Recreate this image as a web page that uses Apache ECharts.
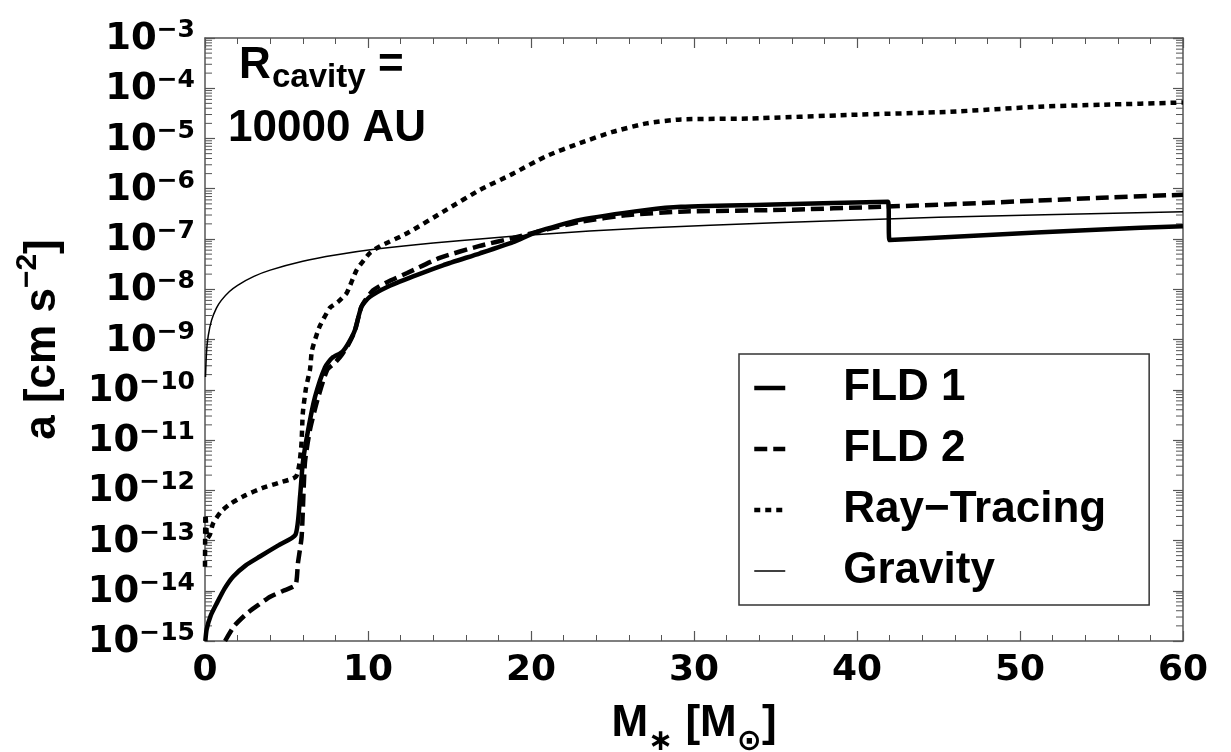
<!DOCTYPE html>
<html lang="en">
<head>
    <meta charset="UTF-8"/>
    <style>
        html, body { margin: 0; padding: 0; background: #fff; }
    </style>
</head>
<body>

<div id="main" style="width: 1231px;height:752px;"></div>

<script src="https://cdn.jsdelivr.net/npm/echarts@6/dist/echarts.min.js"></script>
<script type="text/javascript">

    // stellar mass [Msun] and acceleration [cm s^-2]
    var massFld1 = [0.02, 0.1, 0.35, 0.72, 1.2, 1.72, 2.5, 3.37, 4.5, 5.55, 5.83, 6.0, 6.33, 6.75, 7.36, 7.8, 8.4, 8.8, 9.2, 9.6,
        10.1, 11.15, 12.77, 14.6, 16.87, 18.9, 20.4, 23, 27.1, 29.2, 35.5, 41.9, 42.0, 45.7, 51, 55, 60];
    var accFld1 = [1e-15, 1.7e-15, 3.2e-15, 5.6e-15, 1.1e-14, 1.9e-14, 3.2e-14, 4.8e-14, 8e-14, 1.3e-13, 7.4e-13, 3.5e-12, 1.6e-11,
        7.2e-11, 2.8e-10, 4.3e-10, 5.6e-10, 8.5e-10, 1.55e-9, 4.5e-9, 7e-9, 1.1e-8, 1.8e-8, 3.0e-8, 5.2e-8, 8.7e-8, 1.4e-7,
        2.4e-7, 3.8e-7, 4.4e-7, 4.9e-7, 5.5e-7, 9.5e-8, 1.1e-7, 1.35e-7, 1.55e-7, 1.8e-7];

    var massFld2 = [1.23, 1.8, 2.6, 3.3, 4.0, 4.8, 5.55, 5.7, 5.93, 6.13, 6.44, 6.9, 7.5, 8.0, 8.4, 8.8, 9.2, 9.6, 10.3, 11.2,
        12.4, 14.4, 16.8, 18.9, 21, 23, 26, 29.1, 35.5, 41.6, 45.7, 51, 55, 60];
    var accFld2 = [1e-15, 2e-15, 3.6e-15, 5.3e-15, 7.6e-15, 1.0e-14, 1.3e-14, 3.5e-14, 1.2e-13, 3.5e-12, 1.6e-11, 6.3e-11,
        2.5e-10, 3.5e-10, 5e-10, 8e-10, 1.5e-9, 4.5e-9, 9.5e-9, 1.4e-8, 2.1e-8, 4.2e-8, 7.2e-8, 1.05e-7, 1.55e-7, 2.2e-7,
        3e-7, 3.5e-7, 3.8e-7, 4.4e-7, 4.9e-7, 5.8e-7, 6.6e-7, 7.6e-7];

    var massRay = [0.0, 0.03, 0.15, 0.3, 0.5, 1.0, 1.6, 2.5, 3.5, 4.5, 5.6, 5.9, 6.0, 6.2, 6.44, 6.56, 6.9, 7.06, 7.67, 8.16,
        8.7, 9.3, 10.1, 10.74, 12.4, 14.8, 16.87, 18.9, 20.9, 23, 25, 27.1, 29.2, 33.4, 39.6, 45.7, 51.2, 55, 60];
    var accRay = [3e-14, 3.3e-13, 1.1e-13, 1.3e-13, 2.2e-13, 3.8e-13, 5.5e-13, 8e-13, 1.1e-12, 1.4e-12, 1.9e-12, 7e-12, 3.4e-11,
        1.1e-10, 2.5e-10, 6e-10, 1.4e-9, 1.9e-9, 4.3e-9, 5.6e-9, 8.5e-9, 2.4e-8, 5.2e-8, 7.2e-8, 1.3e-7, 3.8e-7, 9.5e-7,
        2.0e-6, 4.4e-6, 8.1e-6, 1.35e-5, 2.0e-5, 2.4e-5, 2.5e-5, 2.95e-5, 3.4e-5, 4.3e-5, 4.7e-5, 5.2e-5];

    var massGrav = [0.03, 0.1, 0.2, 0.4, 0.7, 1, 1.5, 2, 3, 4, 6, 8, 10.5, 14, 20, 27, 35, 45, 60];
    var accGrav = [1.8e-10, 6e-10, 1.2e-9, 2.4e-9, 4.2e-9, 6e-9, 9e-9, 1.2e-8, 1.8e-8, 2.4e-8, 3.6e-8, 4.8e-8, 6.3e-8,
        8.3e-8, 1.2e-7, 1.65e-7, 2.1e-7, 2.7e-7, 3.5e-7];

    var seriesNames = ['FLD 1', 'FLD 2', 'Ray\u2212Tracing', 'Gravity'];

    // log minor ticks 2..9 in each decade
    var minorTickValues = [];
    for (var e = -15; e < -3; e++) {
        for (var k = 2; k <= 9; k++) {
            minorTickValues.push(k * Math.pow(10, e));
        }
    }

    function zip(xs, ys) {
        var out = [];
        for (var i = 0; i < xs.length; i++) out.push([xs[i], ys[i]]);
        return out;
    }

    DrawEChart(echarts);

    function DrawEChart(echarts) {
        var myChart = echarts.init(document.getElementById('main'));

        var frameColor = '#555';
        var tickFont = {fontFamily: 'DejaVu Sans', fontWeight: 'bold', color: '#000'};

        var xBase = {
            type: 'value', min: 0, max: 60, interval: 10,
            axisLine: {show: true, onZero: false, lineStyle: {color: frameColor, width: 1.5}},
            axisTick: {show: true, inside: true, length: 10, lineStyle: {color: frameColor, width: 1.2}},
            minorTick: {show: true, splitNumber: 5, length: 6, lineStyle: {color: frameColor, width: 1}},
            splitLine: {show: false}
        };
        var yBase = {
            type: 'log', logBase: 10, min: 1e-15, max: 1e-3, interval: 1,
            axisLine: {show: true, onZero: false, lineStyle: {color: frameColor, width: 1.5}},
            axisTick: {show: true, inside: true, length: 10, lineStyle: {color: frameColor, width: 1.2}},
            splitLine: {show: false}
        };

        var options = {
            animation: false,
            grid: {left: 205, right: 48, top: 38, bottom: 111, containLabel: false, outerBoundsMode: 'none'},
            xAxis: [
                Object.assign({}, xBase, {
                    position: 'bottom',
                    axisLabel: Object.assign({fontSize: 36, margin: 12}, tickFont),
                    name: '{m|M}{sub|\u2217}{m| [M}{sub|\u2299}{m|]}',
                    nameLocation: 'middle',
                    nameGap: 39,
                    nameTextStyle: {
                        rich: {
                            m: {fontFamily: 'Liberation Sans', fontWeight: 'bold', fontSize: 44, color: '#000', lineHeight: 60},
                            sub: {fontFamily: 'DejaVu Sans', fontWeight: 'bold', fontSize: 30, color: '#000', lineHeight: 20, verticalAlign: 'top', padding: [33, 0, 0, 0]}
                        }
                    }
                }),
                Object.assign({}, xBase, {position: 'top', axisLabel: {show: false}})
            ],
            yAxis: [
                Object.assign({}, yBase, {
                    position: 'left',
                    axisLabel: {
                        margin: 10,
                        formatter: function (v) {
                            var p = Math.round(Math.log10(v));
                            return '{b|10}{s|\u2212' + (-p) + '}';
                        },
                        rich: {
                            b: Object.assign({fontSize: 37, lineHeight: 40, verticalAlign: 'bottom'}, tickFont),
                            s: Object.assign({fontSize: 25, lineHeight: 40, verticalAlign: 'top'}, tickFont)
                        }
                    },
                    name: '{t|a [cm s}{sup|\u22122}{t|]}',
                    nameLocation: 'middle',
                    nameRotate: 90,
                    nameGap: 140,
                    nameTextStyle: {
                        rich: {
                            t: {fontFamily: 'Liberation Sans', fontWeight: 'bold', fontSize: 44, color: '#000', lineHeight: 52, verticalAlign: 'bottom'},
                            sup: {fontFamily: 'Liberation Sans', fontWeight: 'bold', fontSize: 30, color: '#000', lineHeight: 52, verticalAlign: 'top'}
                        }
                    }
                }),
                Object.assign({}, yBase, {position: 'right', axisLabel: {show: false}})
            ],
            legend: {
                data: seriesNames,
                orient: 'vertical',
                left: 739,
                top: 354,
                itemWidth: 31,
                itemHeight: 2,
                itemGap: 11,
                padding: [9, 43, 9, 13],
                borderColor: '#333',
                borderWidth: 1.5,
                selectedMode: false,
                itemStyle: {opacity: 0},
                lineStyle: {width: 'inherit', type: 'inherit'},
                textStyle: {
                    fontFamily: 'Liberation Sans', fontWeight: 'bold', fontSize: 44, color: '#000',
                    lineHeight: 50, padding: [0, 0, 0, 53]
                }
            },
            graphic: [
                {type: 'text', x: 239, y: 66, style: {text: 'R', fontFamily: 'Liberation Sans', fontWeight: 'bold', fontSize: 44, fill: '#000', verticalAlign: 'middle'}},
                {type: 'text', x: 272, y: 78, style: {text: 'cavity', fontFamily: 'Liberation Sans', fontWeight: 'bold', fontSize: 33, fill: '#000', verticalAlign: 'middle'}},
                {type: 'text', x: 378, y: 66, style: {text: '=', fontFamily: 'Liberation Sans', fontWeight: 'bold', fontSize: 44, fill: '#000', verticalAlign: 'middle'}},
                {type: 'text', x: 228, y: 129, style: {text: '10000 AU', fontFamily: 'Liberation Sans', fontWeight: 'bold', fontSize: 44, fill: '#000', verticalAlign: 'middle'}}
            ],
            series: [
                {
                    name: seriesNames[0], type: 'line', data: zip(massFld1, accFld1),
                    symbol: 'none', smooth: 0.2,
                    lineStyle: {color: '#000', width: 4.5, type: 'solid'}, itemStyle: {color: '#000'}
                },
                {
                    name: seriesNames[1], type: 'line', data: zip(massFld2, accFld2),
                    symbol: 'none', smooth: 0.2,
                    lineStyle: {color: '#000', width: 4.5, type: [13, 6]}, itemStyle: {color: '#000'}
                },
                {
                    name: seriesNames[2], type: 'line', data: zip(massRay, accRay),
                    symbol: 'none', smooth: 0.2,
                    lineStyle: {color: '#000', width: 4.5, type: [6, 5]}, itemStyle: {color: '#000'}
                },
                {
                    name: seriesNames[3], type: 'line', data: zip(massGrav, accGrav),
                    symbol: 'none', smooth: 0.3,
                    lineStyle: {color: '#000', width: 1.5, type: 'solid'}, itemStyle: {color: '#000'}
                },
                {
                    // log minor ticks on left and right frame
                    type: 'custom', silent: true, clip: false,
                    data: minorTickValues.map(function (v) { return [0, v]; }),
                    renderItem: function (params, api) {
                        var p = api.coord([0, api.value(1)]);
                        var cs = params.coordSys;
                        var st = {stroke: frameColor, lineWidth: 1};
                        return {
                            type: 'group',
                            children: [
                                {type: 'line', shape: {x1: cs.x, y1: p[1], x2: cs.x + 7, y2: p[1]}, style: st},
                                {type: 'line', shape: {x1: cs.x + cs.width - 7, y1: p[1], x2: cs.x + cs.width, y2: p[1]}, style: st}
                            ]
                        };
                    }
                }
            ]
        };

        myChart.setOption(options);
    }

</script>

</body>
</html>
